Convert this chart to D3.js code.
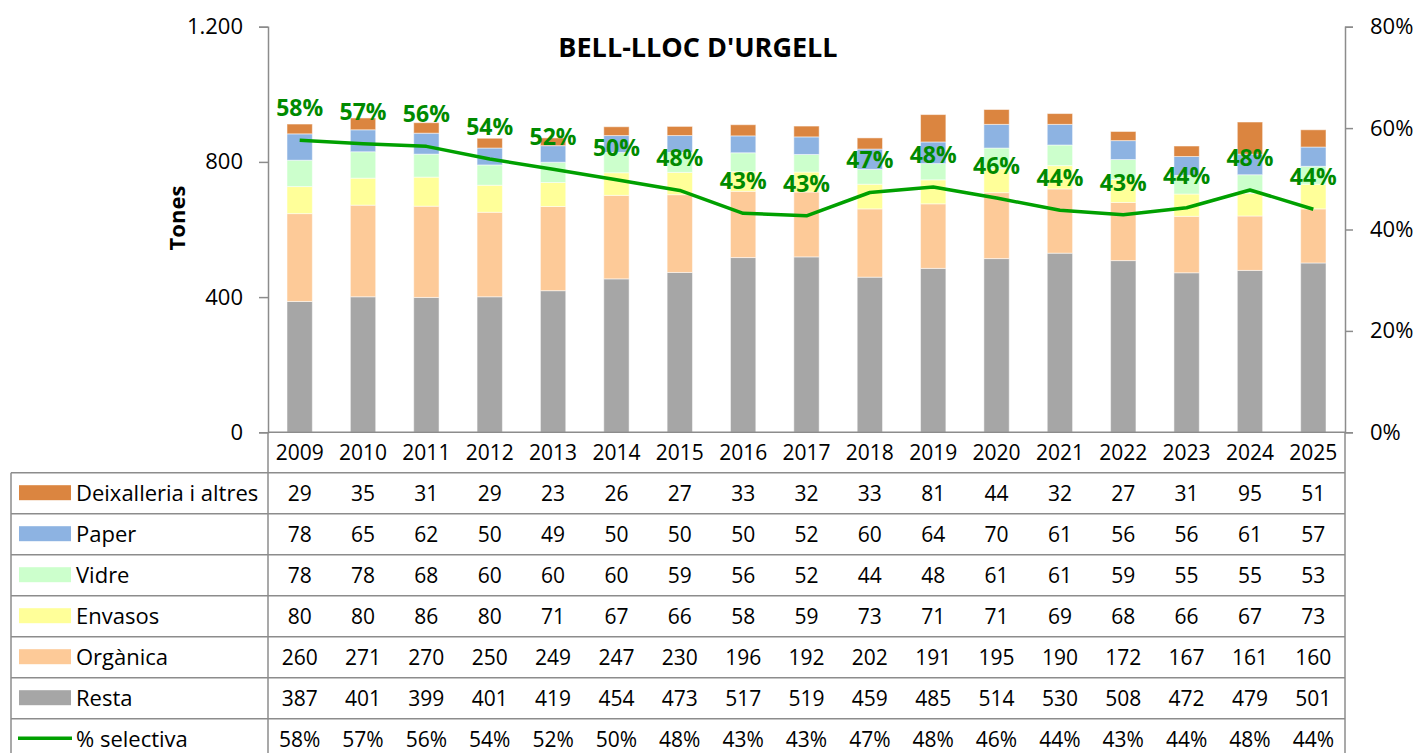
<!DOCTYPE html>
<html>
<head>
<meta charset="utf-8">
<script src="https://cdn.jsdelivr.net/npm/d3@7"></script>
<style>
  html, body { margin: 0; padding: 0; background: #fff; }
  svg { display: block; }
  text { font-family: "Open Sans", "Noto Sans", sans-serif; }
</style>
</head>
<body>
<svg id="chart" width="1418" height="753"></svg>
<script>
const title = "BELL-LLOC D'URGELL";
const years = ["2009","2010","2011","2012","2013","2014","2015","2016","2017","2018","2019","2020","2021","2022","2023","2024","2025"];
const resta       = [387,401,399,401,419,454,473,517,519,459,485,514,530,508,472,479,501];
const organica    = [260,271,270,250,249,247,230,196,192,202,191,195,190,172,167,161,160];
const envasos     = [80,80,86,80,71,67,66,58,59,73,71,71,69,68,66,67,73];
const vidre       = [78,78,68,60,60,60,59,56,52,44,48,61,61,59,55,55,53];
const paper       = [78,65,62,50,49,50,50,50,52,60,64,70,61,56,56,61,57];
const deixalleria = [29,35,31,29,23,26,27,33,32,33,81,44,32,27,31,95,51];
const selectiva   = [0.576,0.569,0.564,0.539,0.519,0.498,0.477,0.432,0.427,0.473,0.484,0.462,0.438,0.429,0.443,0.478,0.440];
const leftTicks = [0, 400, 800, 1200];
const leftTickLabels = ["0", "400", "800", "1.200"];
const rightTicks = [0, 0.2, 0.4, 0.6, 0.8];
const rightTickLabels = ["0%", "20%", "40%", "60%", "80%"];

const series = [
  {name: "Resta", values: resta, color: "#a6a6a6"},
  {name: "Orgànica", values: organica, color: "#fdca98"},
  {name: "Envasos", values: envasos, color: "#ffff99"},
  {name: "Vidre", values: vidre, color: "#ccffcc"},
  {name: "Paper", values: paper, color: "#8db3e2"},
  {name: "Deixalleria i altres", values: deixalleria, color: "#db8540"}
];
const lineColor = "#00a000";
const labelColor = "#008a00";
const gridColor = "#8c8c8c";

const svg = d3.select("#chart");
const L = 268, R = 1345, Y0 = 432.3, YT = 26.7;

const x = d3.scaleBand().domain(years).range([L, R]).padding(0);
const yL = d3.scaleLinear().domain([0, 1200]).range([Y0, YT]);
const yR = d3.scaleLinear().domain([0, 0.8]).range([Y0, YT]);
const bw = x.bandwidth() * 0.4;

// stacked bars
const rows = years.map((yr, i) => {
  const o = {year: yr};
  series.forEach(s => o[s.name] = s.values[i]);
  return o;
});
const stack = d3.stack().keys(series.map(s => s.name))(rows);
const g = svg.append("g");
stack.forEach((layer, li) => {
  g.selectAll(null).data(layer).enter().append("rect")
    .attr("x", d => x(d.data.year) + x.bandwidth() / 2 - bw / 2)
    .attr("width", bw)
    .attr("y", d => yL(d[1]))
    .attr("height", d => yL(d[0]) - yL(d[1]))
    .attr("fill", series[li].color)
    .attr("stroke", "#ffffff")
    .attr("stroke-opacity", 0.5)
    .attr("stroke-width", 1);
});

// axes
const axL = d3.axisLeft(yL).tickValues(leftTicks).tickFormat((d, i) => leftTickLabels[i]).tickSizeOuter(0).tickSize(9).tickPadding(16);
const gl = svg.append("g").attr("transform", `translate(${L},0)`).call(axL);
const axR = d3.axisRight(yR).tickValues(rightTicks).tickFormat((d, i) => rightTickLabels[i]).tickSizeOuter(0).tickSize(8).tickPadding(17);
const gr = svg.append("g").attr("transform", `translate(${R},0)`).call(axR);
[gl, gr].forEach(a => {
  a.select(".domain").attr("stroke", gridColor).attr("stroke-width", 1.5);
  a.selectAll(".tick line").attr("stroke", gridColor).attr("stroke-width", 1.5);
  a.selectAll(".tick text").attr("font-size", 22).attr("fill", "#000").attr("font-family", "Open Sans");
});

// x baseline
svg.append("line").attr("x1", L).attr("x2", R).attr("y1", Y0).attr("y2", Y0)
  .attr("stroke", gridColor).attr("stroke-width", 1.5);

// line
const line = d3.line().x((d, i) => x(years[i]) + x.bandwidth() / 2).y(d => yR(d));
svg.append("path").datum(selectiva).attr("d", line)
  .attr("fill", "none").attr("stroke", lineColor).attr("stroke-width", 3.5).attr("stroke-linejoin", "round");

svg.selectAll(null).data(selectiva).enter().append("text")
  .attr("x", (d, i) => x(years[i]) + x.bandwidth() / 2)
  .attr("y", d => yR(d) - 32 + 8)
  .attr("text-anchor", "middle")
  .attr("font-size", 23).attr("font-weight", "bold").attr("fill", labelColor)
  .text(d => Math.round(d * 100) + "%");

// title
svg.append("text").attr("x", 698).attr("y", 57).attr("text-anchor", "middle")
  .attr("font-size", 27).attr("font-weight", "bold").attr("fill", "#000").text(title);

// y label
svg.append("text").attr("transform", "translate(185,218) rotate(-90)")
  .attr("text-anchor", "middle").attr("font-size", 22).attr("font-weight", "bold").attr("fill", "#000").text("Tones");

// data table
const TL = 11, rowTop = 472.7, rowH = 41, nRows = 7;
const tableRows = [
  {name: "Deixalleria i altres", values: deixalleria, color: "#db8540"},
  {name: "Paper", values: paper, color: "#8db3e2"},
  {name: "Vidre", values: vidre, color: "#ccffcc"},
  {name: "Envasos", values: envasos, color: "#ffff99"},
  {name: "Orgànica", values: organica, color: "#fdca98"},
  {name: "Resta", values: resta, color: "#a6a6a6"},
  {name: "% selectiva", values: selectiva.map(v => Math.round(v * 100) + "%"), line: true}
];
const tg = svg.append("g");
// year row
years.forEach(yr => {
  tg.append("text").attr("x", x(yr) + x.bandwidth() / 2).attr("y", 452 + 8)
    .attr("text-anchor", "middle").attr("font-size", 21).attr("fill", "#000").text(yr);
});
// horizontal lines
for (let i = 0; i <= nRows + 1; i++) {
  const yy = rowTop + i * rowH;
  tg.append("line").attr("x1", TL).attr("x2", R).attr("y1", yy).attr("y2", yy)
    .attr("stroke", gridColor).attr("stroke-width", 1.5);
}
// vertical lines
tg.append("line").attr("x1", TL).attr("x2", TL).attr("y1", rowTop).attr("y2", 753).attr("stroke", gridColor).attr("stroke-width", 1.5);
tg.append("line").attr("x1", L).attr("x2", L).attr("y1", Y0).attr("y2", 753).attr("stroke", gridColor).attr("stroke-width", 1.5);
tg.append("line").attr("x1", R).attr("x2", R).attr("y1", Y0).attr("y2", 753).attr("stroke", gridColor).attr("stroke-width", 1.5);

tableRows.forEach((row, ri) => {
  const cy = rowTop + ri * rowH + rowH / 2;
  if (row.line) {
    tg.append("line").attr("x1", 18).attr("x2", 72).attr("y1", cy - 1).attr("y2", cy - 1)
      .attr("stroke", lineColor).attr("stroke-width", 3.5);
  } else {
    tg.append("rect").attr("x", 19).attr("y", cy - 8).attr("width", 52).attr("height", 15).attr("fill", row.color);
  }
  tg.append("text").attr("x", 76).attr("y", cy + 8).attr("font-size", 22).attr("fill", "#000").text(row.name);
  row.values.forEach((v, i) => {
    tg.append("text").attr("x", x(years[i]) + x.bandwidth() / 2).attr("y", cy + 8)
      .attr("text-anchor", "middle").attr("font-size", 21).attr("fill", "#000").text(v);
  });
});
</script>
</body>
</html>
